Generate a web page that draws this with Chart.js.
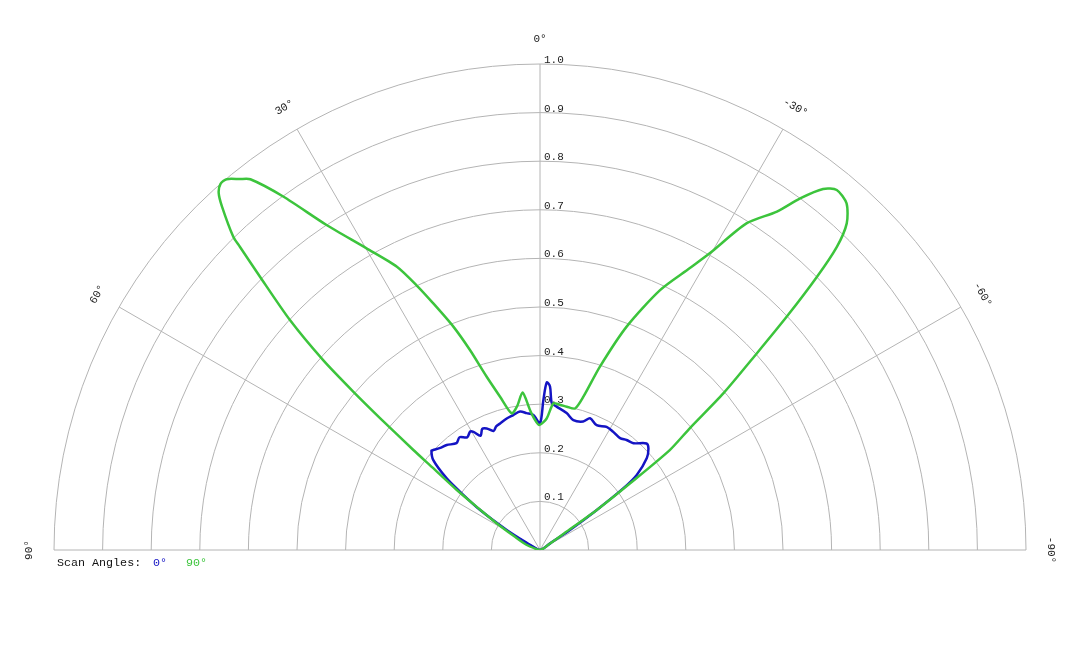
<!DOCTYPE html>
<html>
<head>
<meta charset="utf-8">
<script src="https://cdn.jsdelivr.net/npm/chart.js@4/dist/chart.umd.min.js"></script>
<style>
  html, body { margin: 0; padding: 0; background: #fff; }
  #wrap { width: 1080px; height: 648px; }
</style>
</head>
<body>
<div id="wrap"><canvas id="polar"></canvas></div>
<script>
// scan angle in degrees (+ = left, - = right), normalised gain
const greenAngles = [90, 80, 69, 62, 58.3, 56, 54.2, 52.5, 51.7, 50.5, 49.7, 48.8, 47.4, 45.7, 44.7, 44.4, 42.8, 42, 41.1, 40.2,
  39, 38, 36, 33.3, 29.9, 26.8, 25, 23.4, 21.2, 19.3, 17.1, 14.6, 11.7, 9, 6.3, 4.1, 2.2, 0.3, -2.9, -5.2,
  -7.5, -10.6, -13.9, -15.8, -18.1, -21.2, -24.8, -28, -29.8, -32.3, -35, -36.5, -38.1, -39.5, -41.5, -43.2, -44.4, -45.4, -46.6, -47.8,
  -49.5, -50.9, -52.4, -53.5, -54.8, -55.5, -58, -70, -90];
const greenGain = [0, 0.005, 0.03, 0.06, 0.105, 0.15, 0.211, 0.28, 0.332, 0.426, 0.504, 0.593, 0.699, 0.805, 0.878, 0.902, 0.963, 0.988, 1.0, 0.999,
  0.982, 0.968, 0.899, 0.80, 0.716, 0.653, 0.601, 0.553, 0.493, 0.436, 0.373, 0.326, 0.287, 0.30, 0.326, 0.289, 0.268, 0.257, 0.271, 0.303,
  0.302, 0.30, 0.30, 0.328, 0.397, 0.493, 0.589, 0.657, 0.704, 0.795, 0.85, 0.90, 0.944, 0.96, 0.952, 0.922, 0.873, 0.80, 0.699, 0.602,
  0.496, 0.397, 0.337, 0.23, 0.143, 0.06, 0.02, 0.005, 0];

const blueAngles = [90, 75, 63, 59, 56.3, 53.9, 52.5, 49.9, 47.5, 46.9, 44, 41.6, 38, 35.5, 32.9, 30.5, 29.4, 27.5, 25.5, 23.7,
  21.3, 19.5, 17.5, 14.2, 11.2, 8.2, 5.6, 2.8, 0, -1.3, -2.3, -3.5, -4.6, -6.6, -11, -14.4, -18.6, -20.8, -24.4, -28.4,
  -31.8, -35.6, -38.2, -41.2, -45, -46.8, -49.3, -52.2, -53.5, -54.8, -56.3, -57, -70, -90];
const blueGain = [0, 0.005, 0.023, 0.08, 0.148, 0.204, 0.242, 0.287, 0.303, 0.301, 0.293, 0.289, 0.279, 0.285, 0.276, 0.283, 0.279, 0.265, 0.276, 0.273,
  0.263, 0.27, 0.273, 0.279, 0.283, 0.288, 0.283, 0.278, 0.261, 0.309, 0.345, 0.337, 0.303, 0.297, 0.287, 0.276, 0.279, 0.29, 0.282, 0.288,
  0.286, 0.283, 0.288, 0.292, 0.31, 0.306, 0.29, 0.252, 0.213, 0.143, 0.074, 0.025, 0.005, 0];

const ringValues = [0.1, 0.2, 0.3, 0.4, 0.5, 0.6, 0.7, 0.8, 0.9, 1.0];
const ringLabels = ['0.1', '0.2', '0.3', '0.4', '0.5', '0.6', '0.7', '0.8', '0.9', '1.0'];
const spokeAngles = [90, 60, 30, 0, -30, -60, -90];
const spokeLabels = ['90°', '60°', '30°', '0°', '-30°', '-60°', '-90°'];
const legendTitle = 'Scan Angles:';
const seriesNames = ['0°', '90°'];

const BLUE = '#1414c4';
const GREEN = '#3cc43c';
const GRID = '#b4b4b4';
const FONT = '11px "Liberation Mono", "DejaVu Sans Mono", monospace';
const LEGEND_FONT = '11.7px "Liberation Mono", "DejaVu Sans Mono", monospace';

// polar -> cartesian in data units (0 deg points up, positive angles to the left)
function toXY(angles, gains) {
    return angles.map((a, i) => {
        const t = a * Math.PI / 180;
        return { x: -gains[i] * Math.sin(t), y: gains[i] * Math.cos(t) };
    });
}

const polarGrid = {
    id: 'polarGrid',
    beforeDatasetsDraw(chart) {
        const { ctx, scales: { x, y } } = chart;
        const cx = x.getPixelForValue(0);
        const cy = y.getPixelForValue(0);
        ctx.save();
        ctx.strokeStyle = GRID;
        ctx.lineWidth = 1;

        // rings
        ringValues.forEach((r) => {
            const rad = x.getPixelForValue(r) - cx;
            ctx.beginPath();
            ctx.arc(cx, cy, rad, Math.PI, 2 * Math.PI);
            ctx.stroke();
        });

        // spokes
        const outer = x.getPixelForValue(1) - cx;
        spokeAngles.forEach((a) => {
            const t = a * Math.PI / 180;
            ctx.beginPath();
            ctx.moveTo(cx, cy);
            ctx.lineTo(cx - outer * Math.sin(t), cy - outer * Math.cos(t));
            ctx.stroke();
        });

        // ring labels along the 0 deg spoke
        ctx.font = FONT;
        ctx.fillStyle = '#222';
        ctx.textAlign = 'left';
        ctx.textBaseline = 'alphabetic';
        ringValues.forEach((r, i) => {
            const py = y.getPixelForValue(r);
            ctx.fillText(ringLabels[i], cx + 4, py - 1);
        });

        // angle labels, turned to follow the arc
        ctx.textAlign = 'center';
        ctx.textBaseline = 'middle';
        const labelR = outer + 25;
        spokeAngles.forEach((a, i) => {
            const t = a * Math.PI / 180;
            ctx.save();
            ctx.translate(cx - labelR * Math.sin(t), cy - labelR * Math.cos(t));
            ctx.rotate(-t);
            ctx.fillText(spokeLabels[i], 0, 0);
            ctx.restore();
        });
        ctx.restore();
    },
    afterDraw(chart) {
        const { ctx } = chart;
        ctx.save();
        ctx.font = LEGEND_FONT;
        ctx.textAlign = 'left';
        ctx.textBaseline = 'middle';
        ctx.fillStyle = '#111';
        ctx.fillText(legendTitle, 57, 563);
        ctx.fillStyle = BLUE;
        ctx.fillText(seriesNames[0], 153, 563);
        ctx.fillStyle = GREEN;
        ctx.fillText(seriesNames[1], 186, 563);
        ctx.restore();
    }
};

new Chart(document.getElementById('polar'), {
    type: 'scatter',
    data: {
        datasets: [
            {
                label: seriesNames[1],
                data: toXY(greenAngles, greenGain),
                showLine: true,
                borderColor: GREEN,
                borderWidth: 2.5,
                pointRadius: 0,
                tension: 0.25
            },
            {
                label: seriesNames[0],
                data: toXY(blueAngles, blueGain),
                showLine: true,
                borderColor: BLUE,
                borderWidth: 2.5,
                pointRadius: 0,
                tension: 0.3
            }
        ]
    },
    options: {
        responsive: true,
        maintainAspectRatio: false,
        animation: false,
        layout: { padding: { left: 54, right: 54, top: 64, bottom: 98 } },
        scales: {
            x: { type: 'linear', min: -1, max: 1, display: false },
            y: { type: 'linear', min: 0, max: 1, display: false }
        },
        plugins: {
            legend: { display: false },
            tooltip: { enabled: false }
        }
    },
    plugins: [polarGrid]
});
</script>
</body>
</html>
